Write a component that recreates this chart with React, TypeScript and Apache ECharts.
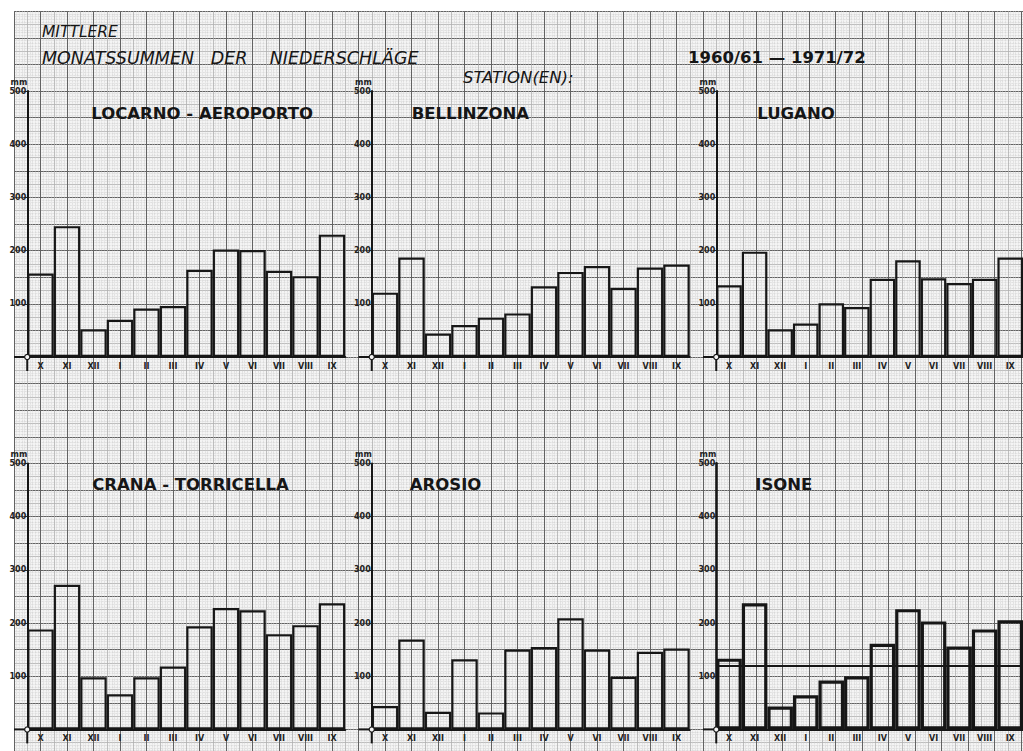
import React, { useEffect, useRef } from "react";
import * as echarts from "echarts";

// ---- data (mm, mean monthly precipitation 1960/61 - 1971/72) ----
const months = ["X", "XI", "XII", "I", "II", "III", "IV", "V", "VI", "VII", "VIII", "IX"];
const stationNames = [
  "LOCARNO - AEROPORTO",
  "BELLINZONA",
  "LUGANO",
  "CRANA - TORRICELLA",
  "AROSIO",
  "ISONE",
];
const locarno = [157, 246, 52, 70, 91, 96, 164, 202, 201, 162, 152, 230];
const bellinzona = [121, 187, 44, 60, 74, 82, 133, 160, 171, 130, 168, 174];
const lugano = [135, 198, 52, 63, 101, 94, 147, 182, 148, 139, 147, 187];
const crana = [188, 272, 98, 66, 98, 118, 194, 228, 224, 179, 196, 237];
const arosio = [44, 169, 33, 132, 32, 150, 155, 209, 150, 99, 146, 152];
const isone = [133, 237, 43, 64, 92, 100, 161, 226, 203, 156, 188, 205];
const isoneMean = 120;
const yTicks = [0, 100, 200, 300, 400, 500];

const stationData = [locarno, bellinzona, lugano, crana, arosio, isone];

// ---- layout ----
const W = 1023;
const H = 751;
const SQX = 26.5;
const SQY = 26.6;
const PAPER_L = 14;
const PAPER_T = 11.2;
const PLOT_W = 12 * SQX;
const PLOT_H = 10 * SQY;
const colX = [0, 1, 2].map((c) => PAPER_L + 0.5 * SQX + c * 13 * SQX);
const rowZero = [0, 1].map((r) => PAPER_T + 13 * SQY + r * 14 * SQY);
const titleDx = [64, 40, 41, 65, 38, 39];
const titleDy = -244;
const FONT = '"DejaVu Sans", "Liberation Sans", sans-serif';
const INK = "#161616";

function buildOption() {
  const grids: any[] = [];
  const xAxes: any[] = [];
  const yAxes: any[] = [];
  const series: any[] = [];
  const graphics: any[] = [];

  const paperW = W - PAPER_L;
  const paperH = H - PAPER_T;
  // background paper: half-cm lines + mm dotted lines
  grids.push({
    left: PAPER_L,
    top: PAPER_T,
    width: paperW,
    height: paperH,
    show: true,
    backgroundColor: "#f4f4f4",
    borderWidth: 0,
  });
  // cm lines
  grids.push({ left: PAPER_L, top: PAPER_T, width: paperW, height: paperH, show: false });
  const bgAxis = (dim: "x" | "y", gi: number, interval: number, max: number, major: boolean) => ({
    type: "value",
    gridIndex: gi,
    min: 0,
    max,
    interval,
    inverse: dim === "y",
    silent: true,
    axisLine: { show: false },
    axisTick: { show: false },
    axisLabel: { show: false },
    splitLine: {
      show: true,
      lineStyle: major ? { color: "#626262", width: 1 } : { color: "#b0b0b0", width: 0.8 },
    },
    minorTick: { show: false, splitNumber: 5 },
    minorSplitLine: {
      show: !major,
      lineStyle: { color: "#cdcdcd", width: 0.7, type: "dotted" },
    },
  });
  xAxes.push(bgAxis("x", 0, 0.5, paperW / SQX, false));
  yAxes.push(bgAxis("y", 0, 0.5, paperH / SQY, false));
  xAxes.push(bgAxis("x", 1, 1, paperW / SQX, true));
  yAxes.push(bgAxis("y", 1, 1, paperH / SQY, true));

  stationData.forEach((vals, i) => {
    const col = i % 3;
    const row = Math.floor(i / 3);
    const ax = colX[col];
    const zero = rowZero[row];
    const gi = grids.length;
    const thick = i === 5;
    grids.push({ left: ax, top: zero - PLOT_H, width: PLOT_W, height: PLOT_H });
    xAxes.push({
      type: "category",
      gridIndex: gi,
      data: months,
      axisLine: { show: true, lineStyle: { color: INK, width: 2 } },
      axisTick: { show: false },
      axisLabel: {
        interval: 0,
        fontSize: 8,
        fontWeight: "bold",
        fontFamily: FONT,
        color: "#222",
        margin: 5,
      },
      splitLine: { show: false },
      z: 5,
    });
    yAxes.push({
      type: "value",
      gridIndex: gi,
      min: yTicks[0],
      max: yTicks[yTicks.length - 1],
      interval: 100,
      name: "mm",
      nameLocation: "end",
      nameGap: 5,
      nameTextStyle: {
        fontSize: 8,
        fontWeight: "bold",
        fontFamily: FONT,
        color: "#222",
        align: "right",
      },
      axisLine: { show: true, lineStyle: { color: INK, width: thick ? 2.6 : 2 } },
      axisTick: { show: true, length: 3, lineStyle: { color: "#222", width: 1 } },
      axisLabel: {
        showMinLabel: false,
        fontSize: 8,
        fontWeight: "bold",
        fontFamily: FONT,
        color: "#222",
        margin: 1,
      },
      splitLine: { show: false },
      z: 5,
    });
    const s: any = {
      type: "bar",
      name: stationNames[i],
      xAxisIndex: gi,
      yAxisIndex: gi,
      data: vals,
      barCategoryGap: "0%",
      barGap: "0%",
      silent: true,
      z: 4,
      itemStyle: {
        color: "rgba(0,0,0,0)",
        borderColor: INK,
        borderWidth: thick ? 3.2 : 2.2,
      },
    };
    if (thick) {
      s.markLine = {
        silent: true,
        symbol: ["none", "none"],
        label: { show: false },
        lineStyle: { color: INK, width: 1.8, type: "solid" },
        data: [{ yAxis: isoneMean }],
      };
    }
    series.push(s);

    // station title
    graphics.push({
      type: "text",
      x: ax + titleDx[i],
      y: zero + titleDy + (row === 1 ? -1 : 0),
      z: 20,
      style: {
        text: stationNames[i],
        fill: INK,
        fontSize: 16.5,
        fontWeight: "bold",
        fontFamily: FONT,
        verticalAlign: "middle",
      },
    });
    // x-axis stub left of origin, y-axis stem below origin, origin circle
    graphics.push({
      type: "line",
      z: 20,
      shape: { x1: ax - SQX / 2, y1: zero, x2: ax, y2: zero },
      style: { stroke: INK, lineWidth: 2 },
    });
    graphics.push({
      type: "line",
      z: 20,
      shape: { x1: ax, y1: zero, x2: ax, y2: zero + 14 },
      style: { stroke: INK, lineWidth: 2 },
    });
    graphics.push({
      type: "circle",
      z: 21,
      shape: { cx: ax, cy: zero, r: 2.6 },
      style: { fill: "#f4f4f4", stroke: INK, lineWidth: 1.2 },
    });
  });

  // header texts
  graphics.push({
    type: "text",
    x: 42,
    y: 32,
    z: 20,
    style: {
      text: "MITTLERE",
      fill: INK,
      fontSize: 15.5,
      fontStyle: "italic",
      fontFamily: FONT,
      verticalAlign: "middle",
    },
  });
  graphics.push({
    type: "text",
    x: 42,
    y: 58,
    z: 20,
    style: {
      text: "MONATSSUMMEN   DER    NIEDERSCHLÄGE",
      fill: INK,
      fontSize: 17.5,
      fontStyle: "italic",
      fontFamily: FONT,
      verticalAlign: "middle",
    },
  });
  graphics.push({
    type: "text",
    x: 463,
    y: 77,
    z: 20,
    style: {
      text: "STATION(EN):",
      fill: INK,
      fontSize: 16.5,
      fontStyle: "italic",
      fontFamily: FONT,
      verticalAlign: "middle",
    },
  });
  graphics.push({
    type: "text",
    x: 688,
    y: 57,
    z: 20,
    style: {
      text: "1960/61 — 1971/72",
      fill: INK,
      fontSize: 16.5,
      fontWeight: "bold",
      fontFamily: FONT,
      verticalAlign: "middle",
    },
  });

  return {
    animation: false,
    backgroundColor: "#ffffff",
    grid: grids,
    xAxis: xAxes,
    yAxis: yAxes,
    series,
    graphic: { elements: graphics },
  };
}

export default function App() {
  const ref = useRef<HTMLDivElement>(null);
  useEffect(() => {
    document.body.style.margin = "0";
    const chart = echarts.init(ref.current as HTMLDivElement, null, { renderer: "svg" });
    chart.setOption(buildOption() as any);
    return () => chart.dispose();
  }, []);
  return <div ref={ref} style={{ width: W, height: H, overflow: "hidden" }} />;
}
